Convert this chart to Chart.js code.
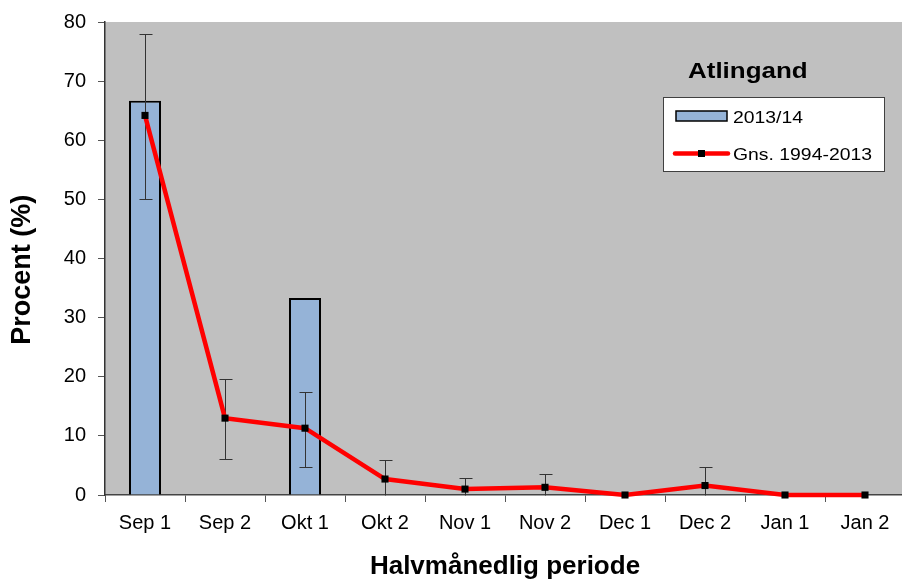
<!DOCTYPE html>
<html>
<head>
<meta charset="utf-8">
<script src="https://cdn.jsdelivr.net/npm/chart.js@4.4.1/dist/chart.umd.min.js"></script>
<style>
  body { margin: 0; overflow: hidden; background: #fff; }
  canvas { display: block; }
</style>
</head>
<body>
<canvas id="chart" width="910" height="582"></canvas>
<script>
// data
const periods = ['Sep 1', 'Sep 2', 'Okt 1', 'Okt 2', 'Nov 1', 'Nov 2', 'Dec 1', 'Dec 2', 'Jan 1', 'Jan 2'];
const season = [66.7, 0, 33.3, 0, 0, 0, 0, 0, 0, 0];
const average = [64.2, 13.0, 11.3, 2.7, 1.0, 1.3, 0, 1.6, 0, 0];
const errLow = [50.1, 6.1, 4.8, 0, 0, 0, null, 0, null, null];
const errHigh = [78.0, 19.6, 17.5, 5.9, 2.8, 3.5, null, 4.8, null, null];
const yTicks = [0, 10, 20, 30, 40, 50, 60, 70, 80];

const FONT = 'Arial, "Liberation Sans", sans-serif';

// grey plot background
const plotBg = {
    id: 'plotBg',
    beforeDraw(chart) {
        const { ctx, chartArea: a } = chart;
        ctx.save();
        ctx.fillStyle = '#c0c0c0';
        ctx.fillRect(a.left, a.top, a.right - a.left, a.bottom - a.top);
        ctx.restore();
    }
};

// error bars, drawn under the red line
const errorBars = {
    id: 'errorBars',
    beforeDatasetDraw(chart, args) {
        if (args.index !== 1) return;
        const { ctx, scales: { x, y } } = chart;
        ctx.save();
        ctx.strokeStyle = '#333';
        ctx.lineWidth = 1;
        periods.forEach((p, i) => {
            if (errHigh[i] === null) return;
            const px = Math.round(x.getPixelForValue(i)) + 0.5;
            const top = Math.round(y.getPixelForValue(errHigh[i])) + 0.5;
            const bot = Math.round(y.getPixelForValue(errLow[i])) + 0.5;
            ctx.beginPath();
            ctx.moveTo(px, top);
            ctx.lineTo(px, bot);
            ctx.moveTo(px - 6, top);
            ctx.lineTo(px + 7, top);
            if (errLow[i] > 0) {
                ctx.moveTo(px - 6, bot);
                ctx.lineTo(px + 7, bot);
            }
            ctx.stroke();
        });
        ctx.restore();
    }
};

// text stretched a little wider, like the reference
function wideText(ctx, text, x, y, sx) {
    ctx.save();
    ctx.translate(x, y);
    ctx.scale(sx, 1);
    ctx.fillText(text, 0, 0);
    ctx.restore();
}

// chart heading and legend box inside the plot
const legendBox = {
    id: 'legendBox',
    afterDraw(chart) {
        const ctx = chart.ctx;
        ctx.save();
        ctx.fillStyle = '#000';
        ctx.textBaseline = 'alphabetic';
        ctx.font = 'bold 22px ' + FONT;
        wideText(ctx, 'Atlingand', 688, 77.5, 1.18);

        ctx.fillStyle = '#fff';
        ctx.fillRect(663.5, 97.5, 221, 74);
        ctx.strokeStyle = '#404040';
        ctx.lineWidth = 1;
        ctx.strokeRect(663.5, 97.5, 221, 74);

        ctx.fillStyle = '#95b3d7';
        ctx.fillRect(676, 111, 51, 10);
        ctx.strokeStyle = '#000';
        ctx.lineWidth = 1.5;
        ctx.strokeRect(676, 111, 51, 10);

        ctx.strokeStyle = '#ff0000';
        ctx.lineWidth = 4.5;
        ctx.lineCap = 'round';
        ctx.beginPath();
        ctx.moveTo(675, 153.5);
        ctx.lineTo(728, 153.5);
        ctx.stroke();
        ctx.fillStyle = '#000';
        ctx.fillRect(698, 150, 7, 7);

        ctx.font = '17px ' + FONT;
        wideText(ctx, '2013/14', 733, 122.5, 1.14);
        wideText(ctx, 'Gns. 1994-2013', 733, 160, 1.14);
        ctx.restore();
    }
};

new Chart(document.getElementById('chart'), {
    type: 'bar',
    data: {
        labels: periods,
        datasets: [
            {
                type: 'bar',
                label: '2013/14',
                data: season,
                backgroundColor: '#95b3d7',
                borderColor: '#000',
                borderWidth: 2,
                barPercentage: 0.4,
                categoryPercentage: 1,
                order: 1
            },
            {
                type: 'line',
                label: 'Gns. 1994-2013',
                data: average,
                borderColor: '#ff0000',
                borderWidth: 4.5,
                tension: 0,
                pointStyle: 'rect',
                pointRadius: 5,
                pointBackgroundColor: '#000',
                pointBorderColor: '#000',
                pointBorderWidth: 0,
                clip: false,
                order: 0
            }
        ]
    },
    options: {
        responsive: false,
        animation: false,
        devicePixelRatio: 1,
        layout: { padding: { top: 13, right: 2, left: 0, bottom: 0 } },
        plugins: {
            legend: { display: false },
            tooltip: { enabled: false }
        },
        scales: {
            x: {
                grid: {
                    display: true,
                    drawOnChartArea: false,
                    offset: true,
                    tickLength: 7,
                    color: '#555'
                },
                border: { color: '#444', width: 1.5 },
                ticks: {
                    color: '#000',
                    font: { family: FONT, size: 20 },
                    padding: 9,
                    maxRotation: 0
                },
                title: {
                    display: true,
                    text: 'Halvmånedlig periode',
                    color: '#000',
                    font: { family: FONT, size: 26, weight: 'bold' },
                    padding: { top: 0, bottom: 0 }
                },
                afterFit(scale) { scale.height = 87; }
            },
            y: {
                min: 0,
                max: 80,
                afterBuildTicks(scale) { scale.ticks = yTicks.map(v => ({ value: v })); },
                grid: {
                    display: true,
                    drawOnChartArea: false,
                    tickLength: 7,
                    color: '#555'
                },
                border: { color: '#333', width: 1.5 },
                ticks: {
                    color: '#000',
                    font: { family: FONT, size: 20, lineHeight: 1 },
                    padding: 12
                },
                title: {
                    display: true,
                    // trailing spaces push the visible text a bit down, as in the reference
                    text: 'Procent (%)   ',
                    color: '#000',
                    font: { family: FONT, size: 27, weight: 'bold' },
                    padding: { top: 6, bottom: 0 }
                },
                afterFit(scale) { scale.width = 105; }
            }
        }
    },
    plugins: [plotBg, errorBars, legendBox]
});
</script>
</body>
</html>
